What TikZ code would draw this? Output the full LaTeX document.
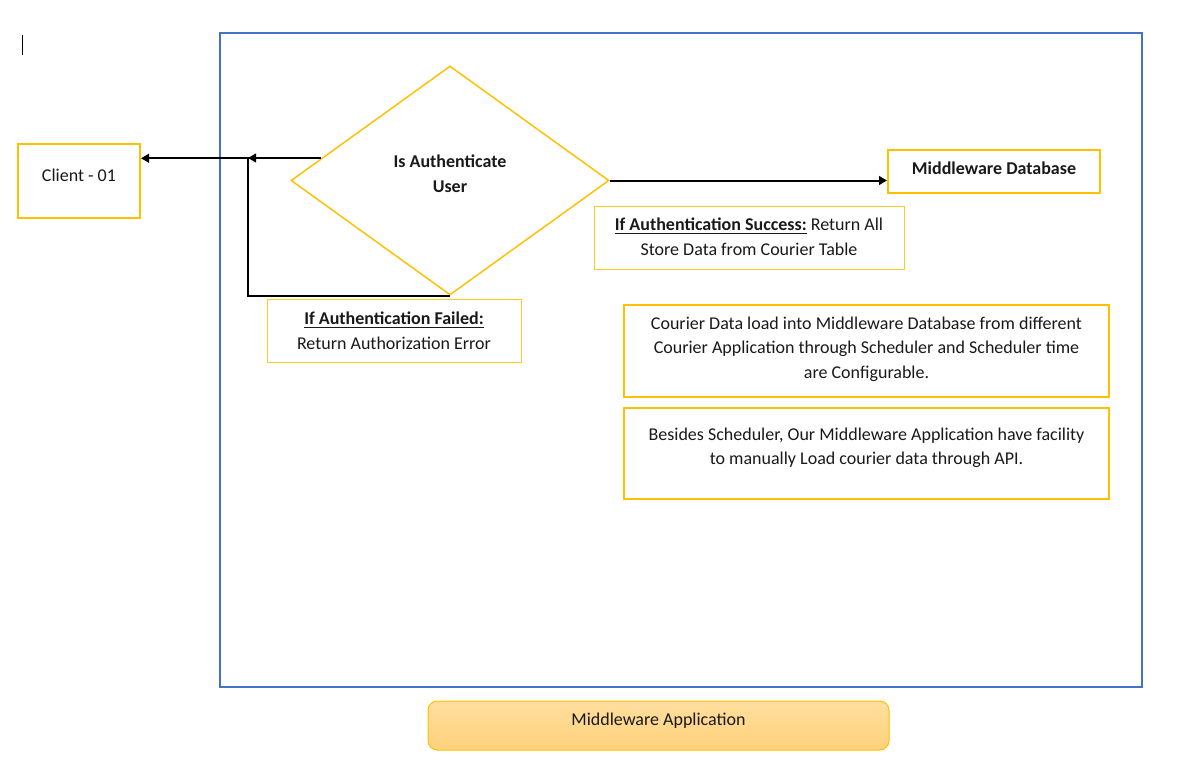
\documentclass[tikz,border=0pt]{standalone}
\usepackage{fontspec}
\setmainfont{Carlito}
\usetikzlibrary{shapes.geometric,arrows.meta,calc}
\definecolor{gold}{HTML}{FFC000}
\definecolor{frameblue}{HTML}{4472C4}
\definecolor{apptop}{HTML}{FFDE9E}
\definecolor{appbot}{HTML}{FFD27C}
\begin{document}
\begin{tikzpicture}[x=0.75pt,y=-0.75pt,
  every node/.style={font=\fontsize{13.5}{18.4}\selectfont, inner sep=0pt, text=black!90},
  boxthin/.style={draw=gold!85, line width=0.75pt},
  conn/.style={line width=1.5pt, black},
  tip/.style={-{Triangle[length=6pt,width=6.5pt]}}
]
\useasboundingbox (0,0) rectangle (1187,770);
% cursor mark
\draw[line width=0.75pt, black] (22,35) -- (22,55);
% frame
\node[draw=frameblue, line width=1.5pt, minimum width=922*0.75pt, minimum height=654*0.75pt] (frame) at (681,360) {};
% client
\node[draw=gold, line width=1.5pt, minimum width=122*0.75pt, minimum height=74*0.75pt] (client) at (79,181) {};
\node (clienttxt) at (79,175) {Client - 01};
% diamond
\node[diamond, draw=gold, line width=1.1pt, minimum width=318*0.75pt, minimum height=229*0.75pt] (dia) at (450,180.5) {};
\node[align=center, font=\fontsize{13.5}{18.4}\selectfont\bfseries] (diatxt) at (450,174) {Is Authenticate\\User};
% failed
\node[boxthin, minimum width=254*0.75pt, minimum height=63*0.75pt] (fail) at (394,330.5) {};
\node[align=center] (failtxt) at (394,331) {\underline{\textbf{If Authentication Failed:}}\\Return Authorization Error};
% database
\node[draw=gold, line width=1.5pt, minimum width=212*0.75pt, minimum height=43*0.75pt] (db) at (994,171.5) {};
\node[font=\fontsize{13.5}{18.4}\selectfont\bfseries] (dbtxt) at (994,168) {Middleware Database};
% success
\node[boxthin, minimum width=310*0.75pt, minimum height=63*0.75pt] (succ) at (749,237.5) {};
\node[align=center] (succtxt) at (749,237) {\underline{\textbf{If Authentication Success:}} Return All\\Store Data from Courier Table};
% courier
\node[draw=gold, line width=1.5pt, minimum width=485*0.75pt, minimum height=92*0.75pt] (cour) at (866.5,351) {};
\node[align=center] (courtxt) at (866.5,349) {Courier Data load into Middleware Database from different\\Courier Application through Scheduler and Scheduler time\\are Configurable.};
% besides
\node[draw=gold, line width=1.5pt, minimum width=485*0.75pt, minimum height=91*0.75pt] (bes) at (866.5,453.5) {};
\node[align=center] (bestxt) at (866.5,448) {Besides Scheduler, Our Middleware Application have facility\\to manually Load courier data through API.};
% app
\node[draw=gold, line width=0.75pt, rounded corners=7pt, top color=apptop, bottom color=appbot, minimum width=461*0.75pt, minimum height=49*0.75pt] (app) at (658.5,725.5) {};
\node (apptxt) at (658.5,721) {Middleware Application};
% connectors
\coordinate (s) at ($(dia.west)!0.193!(dia.north)$);
\coordinate (j) at (248,158);
\draw[conn, tip] (s) -- (client.east |- s);
\draw[conn] (dia.south) -| (j);
\draw[conn, tip] ($(j)+(12,0)$) -- (j);
\draw[conn, tip] (dia.east) -- (db.west |- dia.east);
\end{tikzpicture}
\end{document}
